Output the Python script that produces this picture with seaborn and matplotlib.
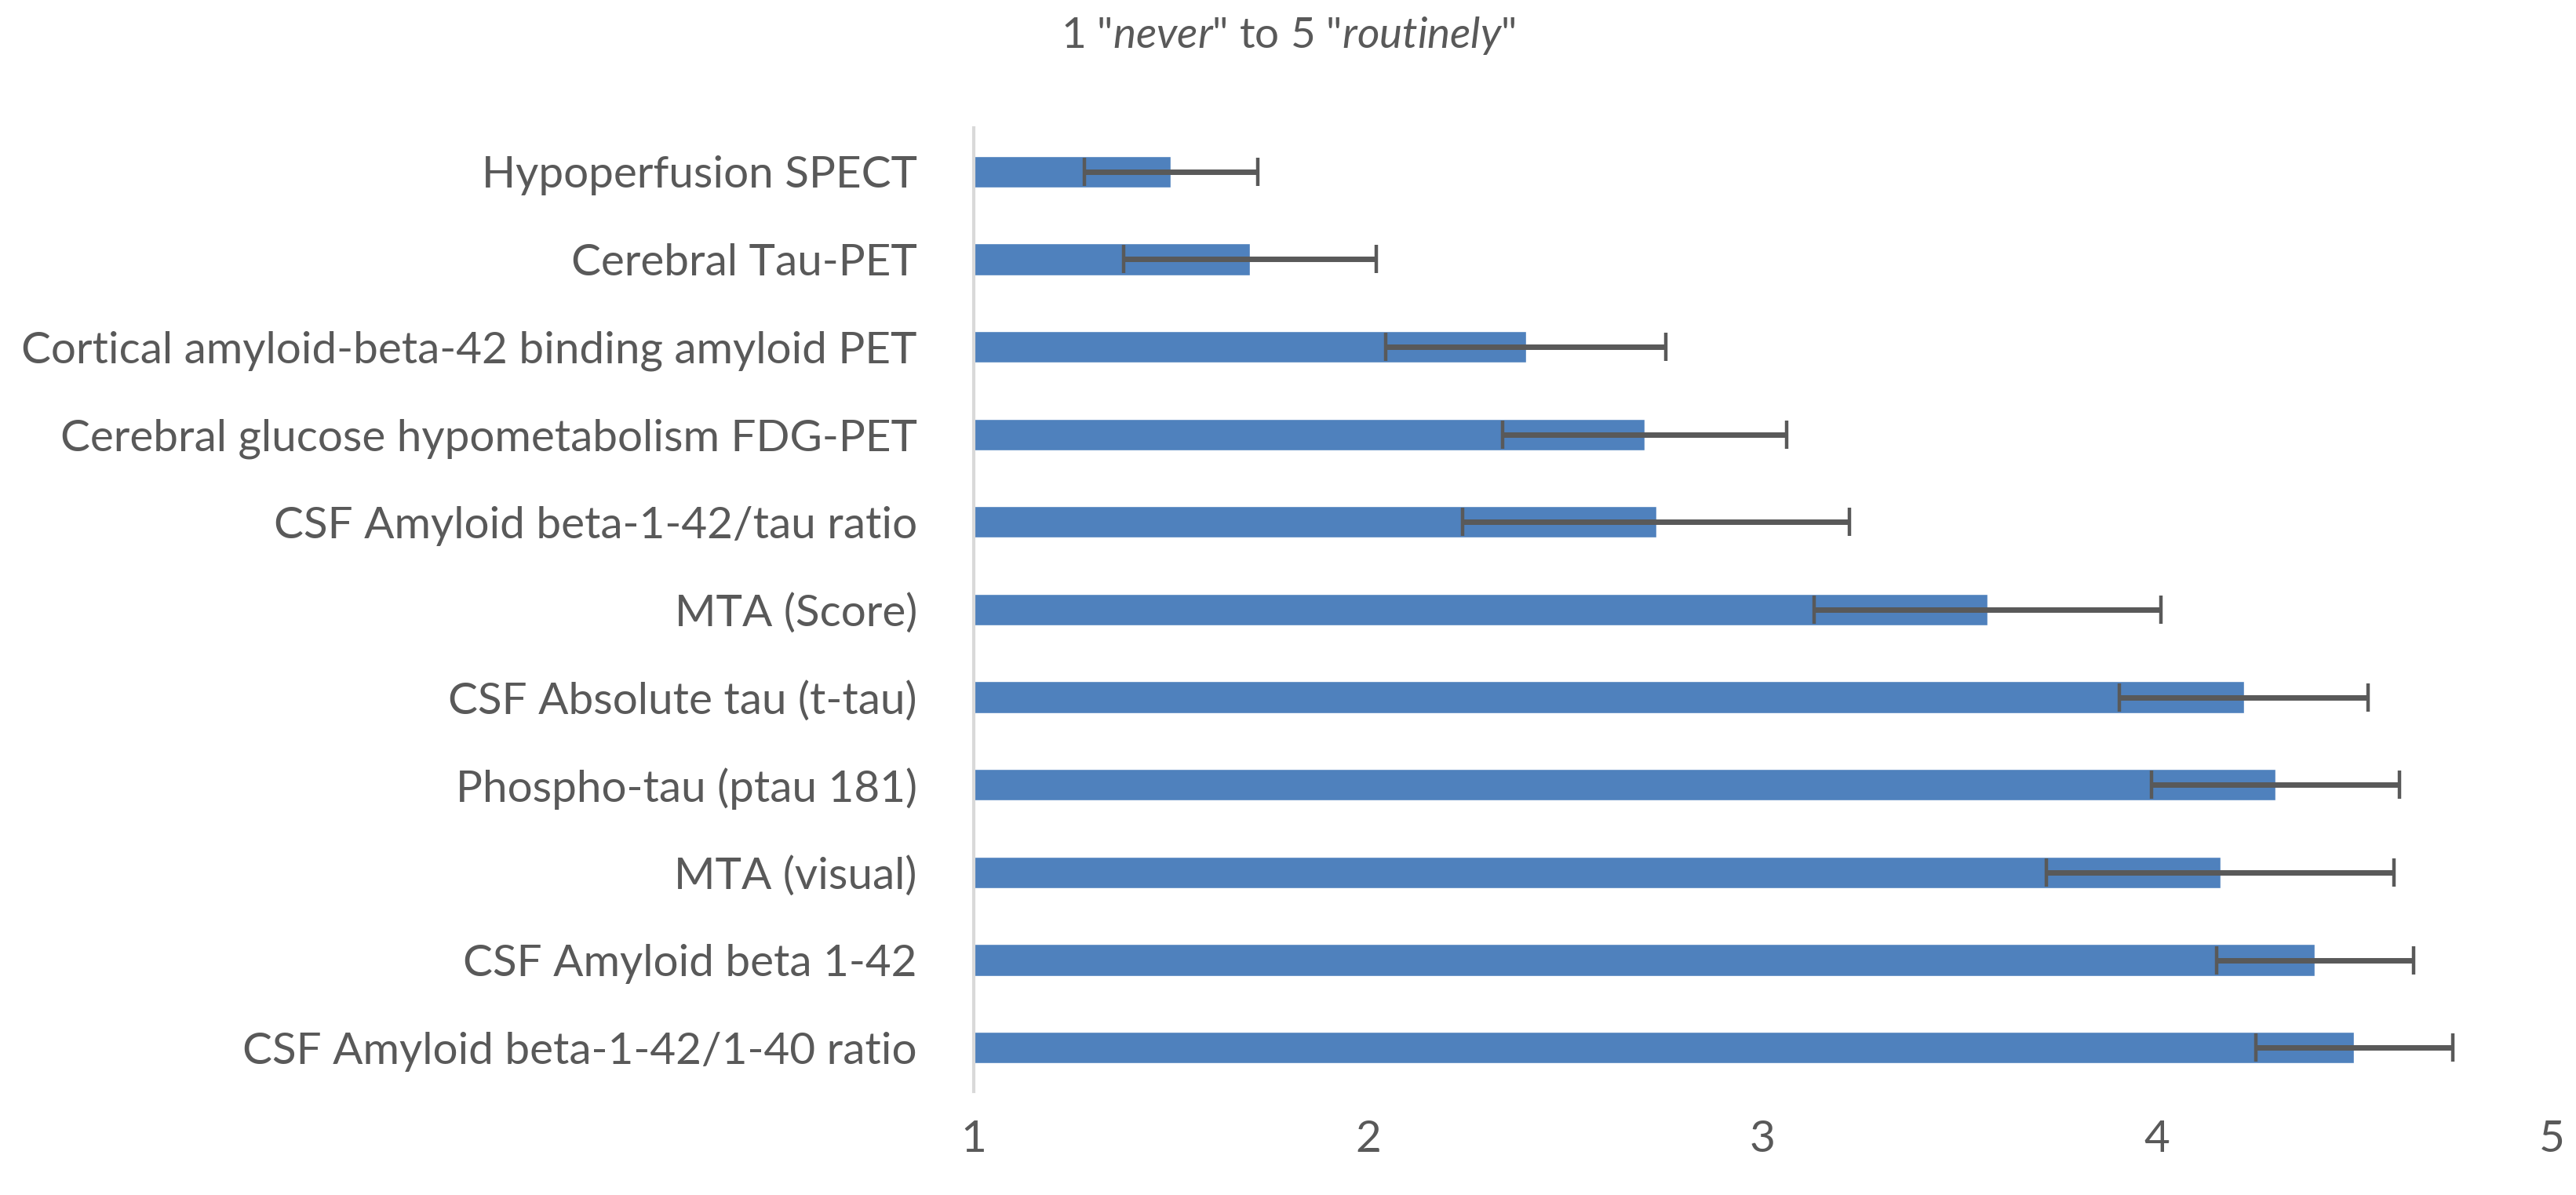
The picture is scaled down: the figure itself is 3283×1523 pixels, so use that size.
import numpy as np
import pandas as pd
import seaborn as sns
import matplotlib
matplotlib.use("Agg")
import matplotlib.pyplot as plt

# category labels, top to bottom
categories = [
    "Hypoperfusion SPECT",
    "Cerebral Tau-PET",
    "Cortical amyloid-beta-42 binding amyloid PET",
    "Cerebral glucose hypometabolism FDG-PET",
    "CSF Amyloid beta-1-42/tau ratio",
    "MTA (Score)",
    "CSF Absolute tau (t-tau)",
    "Phospho-tau (ptau 181)",
    "MTA (visual)",
    "CSF Amyloid beta 1-42",
    "CSF Amyloid beta-1-42/1-40 ratio",
]
means = [1.50, 1.70, 2.40, 2.70, 2.73, 3.57, 4.22, 4.30, 4.16, 4.40, 4.50]
errors = [0.22, 0.32, 0.355, 0.36, 0.49, 0.44, 0.315, 0.315, 0.44, 0.25, 0.25]
xticks = [1, 2, 3, 4, 5]

bar_col = "#4F81BD"
txt_col = "#595959"

sns.set_theme(style="white")
plt.rcParams['font.family'] = ['Lato', 'DejaVu Sans']
plt.rcParams['mathtext.fontset'] = 'custom'
plt.rcParams['mathtext.it'] = 'Lato:italic'
plt.rcParams['mathtext.rm'] = 'Lato'

df = pd.DataFrame({"cat": categories, "mean": means, "err": errors})

fig = plt.figure(figsize=(32.83, 15.23), dpi=100)
ax = fig.add_axes([0.378, 0.0867, 0.6125, 0.8063])

sns.barplot(data=df, x="mean", y="cat", orient="h", color=bar_col,
            saturation=1, width=0.36, ax=ax, errorbar=None)
ax.errorbar(df["mean"], np.arange(len(df)), xerr=df["err"], fmt="none",
            ecolor=txt_col, elinewidth=5, capsize=13, capthick=3.2)

ax.set_xlim(1, 5)
ax.set_ylim(len(df) - 0.5, -0.5)
ax.set_xticks(xticks)
ax.set_xticklabels([str(t) for t in xticks])
ax.set_xlabel("")
ax.set_ylabel("")

for s in ["top", "right", "bottom"]:
    ax.spines[s].set_visible(False)
ax.spines["left"].set_color("#D9D9D9")
ax.spines["left"].set_linewidth(3)

fs = 40.8
ax.tick_params(axis="x", length=0, pad=26, labelsize=fs, labelcolor=txt_col)
ax.tick_params(axis="y", length=0, pad=52, labelsize=fs, labelcolor=txt_col)

fig.text(0.5, 0.97, '1 "$\\it{never}$" to 5 "$\\it{routinely}$"',
         ha="center", va="center", fontsize=39.5, color=txt_col)

fig.savefig("out.png", dpi=100)
